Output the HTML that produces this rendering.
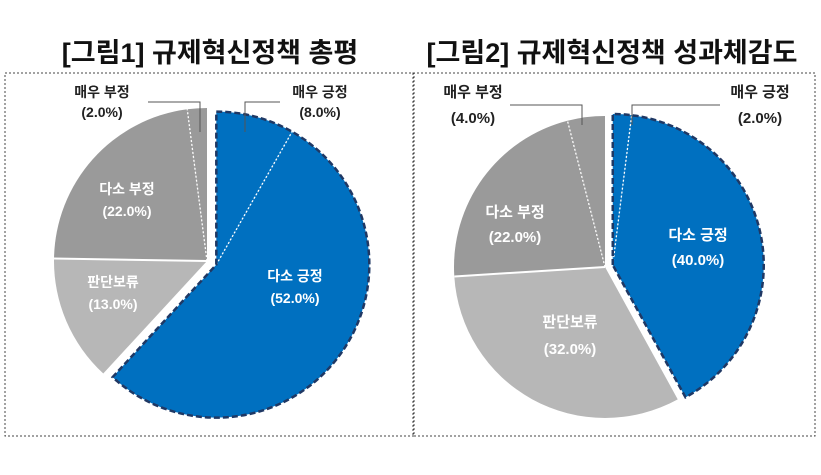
<!DOCTYPE html>
<html><head><meta charset="utf-8">
<style>
body{margin:0;background:#fff;width:821px;height:475px;overflow:hidden;font-family:"Liberation Sans","Noto Sans CJK KR",sans-serif;}
svg{display:block}
</style></head><body>
<svg id="s" width="821" height="475">
<rect x="5" y="73" width="409" height="363" fill="none" stroke="#444" stroke-width="1" stroke-dasharray="2,2"/>
<rect x="413" y="73" width="402" height="363" fill="none" stroke="#444" stroke-width="1" stroke-dasharray="2,2"/>
<text x="210" y="62" text-anchor="middle" font-size="27" font-weight="bold" fill="#111">[그림1] 규제혁신정책  총평</text>
<text x="612" y="62" text-anchor="middle" font-size="27" font-weight="bold" fill="#111">[그림2] 규제혁신정책  성과체감도</text>
</svg>
<script>
const categories = ["매우 긍정","다소 긍정","판단보류","다소 부정","매우 부정"];
const values1 = [8.0, 52.0, 13.0, 22.0, 2.0];
const values2 = [2.0, 40.0, 32.0, 22.0, 4.0];
const fills = ["#0070c0","#0070c0","#b7b7b7","#9a9a9a","#9a9a9a"];
const NS="http://www.w3.org/2000/svg";
const svg=document.getElementById('s');
function pt(cx,cy,r,a){return [cx+r*Math.sin(a),cy-r*Math.cos(a)];}
function arc(cx,cy,r,a0,a1){const p0=pt(cx,cy,r,a0),p1=pt(cx,cy,r,a1);const l=(a1-a0)>Math.PI?1:0;
 return `M${cx},${cy}L${p0[0]},${p0[1]}A${r},${r} 0 ${l} 1 ${p1[0]},${p1[1]}Z`;}
function sep(g,x,y,r,aa,dash,id){
  const q=pt(x,y,r,aa);
  const l=document.createElementNS(NS,'line');
  l.setAttribute('x1',x);l.setAttribute('y1',y);l.setAttribute('x2',q[0]);l.setAttribute('y2',q[1]);
  l.setAttribute('stroke','#fff');l.setAttribute('stroke-width',dash?'1.3':'2');
  if(dash) l.setAttribute('stroke-dasharray','2,2');
  
  
  g.appendChild(l);
}
function drawPie(vals,cx,cy,r,off,id){
 const tot=vals.reduce((a,b)=>a+b,0);
 const ang=vals.map(v=>v/tot*2*Math.PI);
 const g=document.createElementNS(NS,'g');
 
 
 svg.appendChild(g);
 const blueEnd=ang[0]+ang[1];const mid=blueEnd/2;
 const bx=cx+off*Math.sin(mid),by=cy-off*Math.cos(mid);
 let a=0;
 for(let i=0;i<vals.length;i++){
  const a0=a,a1=a+ang[i];a=a1;
  const blue=i<2;const x=blue?bx:cx,y=blue?by:cy;
  const p=document.createElementNS(NS,'path');
  p.setAttribute('d',arc(x,y,r,a0,a1));
  p.setAttribute('fill',fills[i]);
  
  
  g.appendChild(p);
 }
 sep(g,bx,by,r,ang[0],true,id);
 sep(g,cx,cy,r,2*Math.PI-ang[4],true,id);
 sep(g,cx,cy,r,ang[0]+ang[1]+ang[2],false,id);
 const o=document.createElementNS(NS,'path');
 o.setAttribute('d',arc(bx,by,r,0,blueEnd));
 o.setAttribute('fill','none');o.setAttribute('stroke','#1f3864');o.setAttribute('stroke-width','2.5');o.setAttribute('stroke-dasharray','6,3');
 
 
 g.appendChild(o);
}
drawPie(values1,207,261,153,10,'chart1');
drawPie(values2,605,267,151,8,'chart2');
function label(x,y,idx,val,color,id,size,gap){
 const t=document.createElementNS(NS,'text');
 t.setAttribute('x',x);t.setAttribute('y',y);t.setAttribute('text-anchor','middle');
 t.setAttribute('font-size',size);t.setAttribute('font-weight','bold');t.setAttribute('fill',color);
 
 
 const a=document.createElementNS(NS,'tspan');a.setAttribute('x',x);a.textContent=categories[idx];
 const b=document.createElementNS(NS,'tspan');b.setAttribute('x',x);b.setAttribute('dy',gap);b.textContent='('+val.toFixed(1)+'%)';
 t.appendChild(a);t.appendChild(b);svg.appendChild(t);
}
function leader(pts,id){
 const p=document.createElementNS(NS,'polyline');
 p.setAttribute('points',pts);p.setAttribute('fill','none');p.setAttribute('stroke','#555');p.setAttribute('stroke-width','1');
 
 
 svg.appendChild(p);
}
// chart1
label(102,97,4,values1[4],'#222','chart1',14,20);
label(320,97,0,values1[0],'#222','chart1',14,20);
label(127,194,3,values1[3],'#fff','chart1',14,22);
label(113,287,2,values1[2],'#fff','chart1',14,22);
label(295,281,1,values1[1],'#fff','chart1',14,22);
leader('148,102 200,102 200,132','chart1-neg');
leader('280,102 245,102 245,132','chart1-pos');
// chart2
label(473,97,4,values2[4],'#222','chart2',15,26);
label(760,97,0,values2[0],'#222','chart2',15,26);
label(515,217,3,values2[3],'#fff','chart2',15,25);
label(570,327,2,values2[2],'#fff','chart2',15,27);
label(698,240,1,values2[1],'#fff','chart2',15,25);
leader('510,105 582,105 582,125','chart2-neg');
leader('720,105 632,105 632,125','chart2-pos');
</script>
</body></html>
